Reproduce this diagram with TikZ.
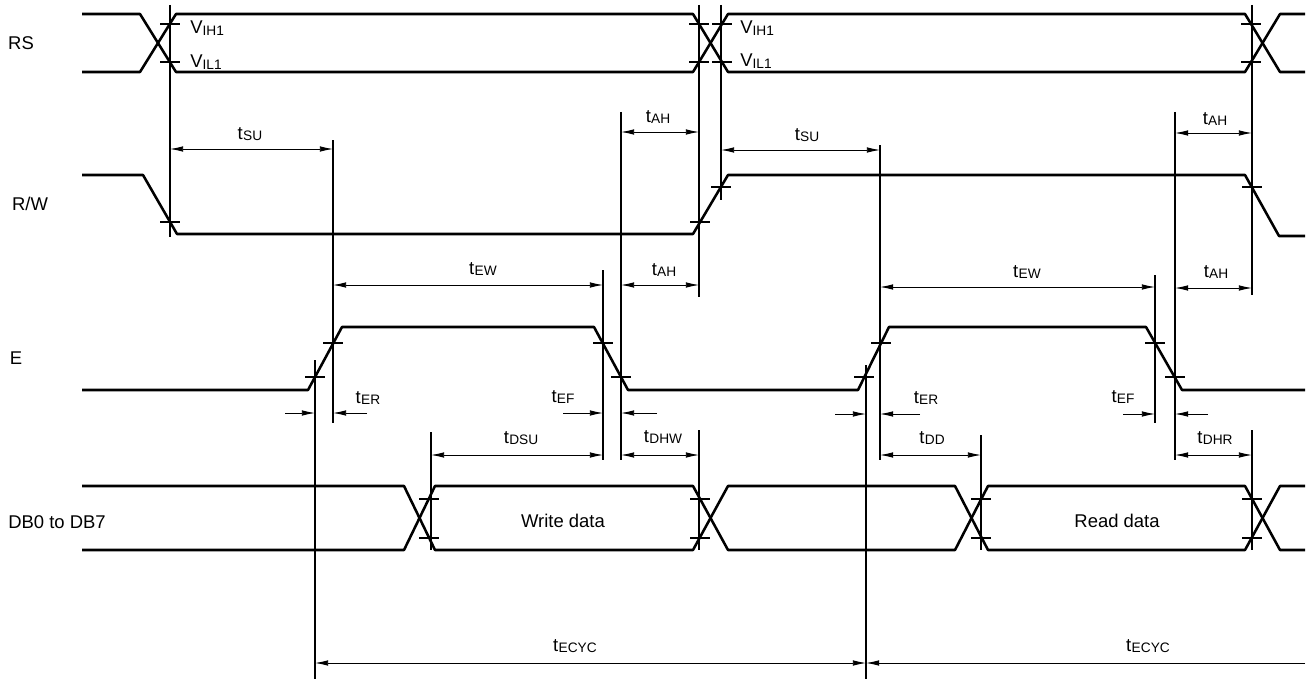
\documentclass[tikz,border=0pt]{standalone}
\usepackage{fontspec}
\setmainfont{Liberation Sans}
\usetikzlibrary{arrows.meta}
\newcommand{\tsub}[1]{t\kern0.2pt\raisebox{-0.9pt}{\fontsize{7.8}{8}\selectfont #1}}
\newcommand{\vsub}[1]{V\raisebox{-0.9pt}{\fontsize{7.8}{8}\selectfont #1}}

\begin{document}
\begin{tikzpicture}[x=0.02cm,y=-0.02cm,font=\fontsize{10.5}{12}\selectfont,
  sig/.style={line width=1.45pt,line join=round},
  refline/.style={line width=0.6pt},
  tick/.style={line width=0.7pt},
  dim/.style={line width=0.5pt,{Latex[length=7.5pt,width=3.2pt]}-{Latex[length=7.5pt,width=3.2pt]}},
  dimto/.style={line width=0.5pt,-{Latex[length=7.5pt,width=3.2pt]}}]
  \useasboundingbox (0,0) rectangle (1311,679);
  % signal names
  \node (nRS) at (21,43) {RS};
  \node (nRW) at (30,204) {R/W};
  \node (nE) at (16,358) {E};
  \node[anchor=west,inner sep=0pt] (nDB) at (8,522) {DB0 to DB7};
  % waveforms
  \draw[sig] (82,14) -- (140,14) -- (176,72) -- (693,72) -- (728,14) -- (1245,14) -- (1280,72) -- (1305,72);
  \draw[sig] (82,72) -- (140,72) -- (176,14) -- (693,14) -- (728,72) -- (1245,72) -- (1280,14) -- (1305,14);
  \draw[sig] (82,175) -- (143,175) -- (177,234) -- (693,234) -- (728,175) -- (1245,175) -- (1279,236) -- (1305,236);
  \draw[sig] (82,390) -- (308,390) -- (342,327) -- (594,327) -- (628,390) -- (858,390) -- (889,327) -- (1146,327) -- (1182,390) -- (1305,390);
  \draw[sig] (82,486) -- (404,486) -- (435,550) -- (693,550) -- (728,486) -- (955,486) -- (988,550) -- (1245,550) -- (1280,486) -- (1305,486);
  \draw[sig] (82,550) -- (404,550) -- (435,486) -- (693,486) -- (728,550) -- (955,550) -- (988,486) -- (1245,486) -- (1280,550) -- (1305,550);
  % threshold ticks
  \foreach \x/\y in {170/24,170/62,699/24,699/62,722/24,722/62,1251/24,1251/62,
    170/222,700/222,721/187,1252/187,
    315/377,333/343,603/343,621/377,864/377,881/343,1155/343,1175/377,
    429/499,429/538,700/499,700/538,981/499,981/538,1252/499,1252/538}
    \draw[tick] ({\x-10},\y) -- ({\x+10},\y);
  % reference lines
  \foreach \x/\ya/\yb in {170/5/237,315/360/679,333/140/423,431/432/550,603/270/460,
    621/112/460,699/5/297,699/430/550,721/5/200,866/365/679,880/145/460,
    981/435/550,1155/275/423,1175/112/460,1252/5/295,1252/430/550}
    \draw[refline] (\x,\ya) -- (\x,\yb);
  % level labels
  \node[anchor=west,inner sep=0pt] (vih1) at (190,28) {\vsub{IH1}};
  \node[anchor=west,inner sep=0pt] (vil1) at (190,62) {\vsub{IL1}};
  \node[anchor=west,inner sep=0pt] (vih2) at (740,28) {\vsub{IH1}};
  \node[anchor=west,inner sep=0pt] (vil2) at (740,61) {\vsub{IL1}};
  % timing arrows
  \foreach \xa/\xb/\y in {170/333/149,621/699/132,721/880/150,1175/1252/133,
    333/603/285,621/699/285,880/1155/287,1175/1252/288,
    431/603/455,621/699/455,880/981/455,1175/1252/455,315/866/663}
    \draw[dim] (\xa,\y) -- (\xb,\y);
  \foreach \xa/\xb/\y in {285/315/413,367/333/413,563/603/413,657/621/413,
    835/866/414,920/880/414,1123/1155/414,1208/1175/414,1305/866/663}
    \draw[dimto] (\xa,\y) -- (\xb,\y);
  % timing labels
  \foreach \nm/\x/\y/\s in {tsu1/250/134/SU,tah1/658/117/AH,tsu2/807/135/SU,tah3/1215/119/AH,
    tew1/483/269/EW,tah2/664/270/AH,tew2/1027/272/EW,tah4/1216/272/AH,
    ter1/368/398/ER,tef1/563/397/EF,ter2/926/398/ER,tef2/1123/397/EF,
    tdsu/521/438/DSU,tdhw/663/437/DHW,tdd/932/438/DD,tdhr/1215/438/DHR,
    tcyc1/575/646/ECYC,tcyc2/1148/646/ECYC}
    \node (\nm) at (\x,\y) {\tsub{\s}};
  \node (wdata) at (563,521) {Write data};
  \node (rdata) at (1117,521) {Read data};
\end{tikzpicture}
\end{document}
